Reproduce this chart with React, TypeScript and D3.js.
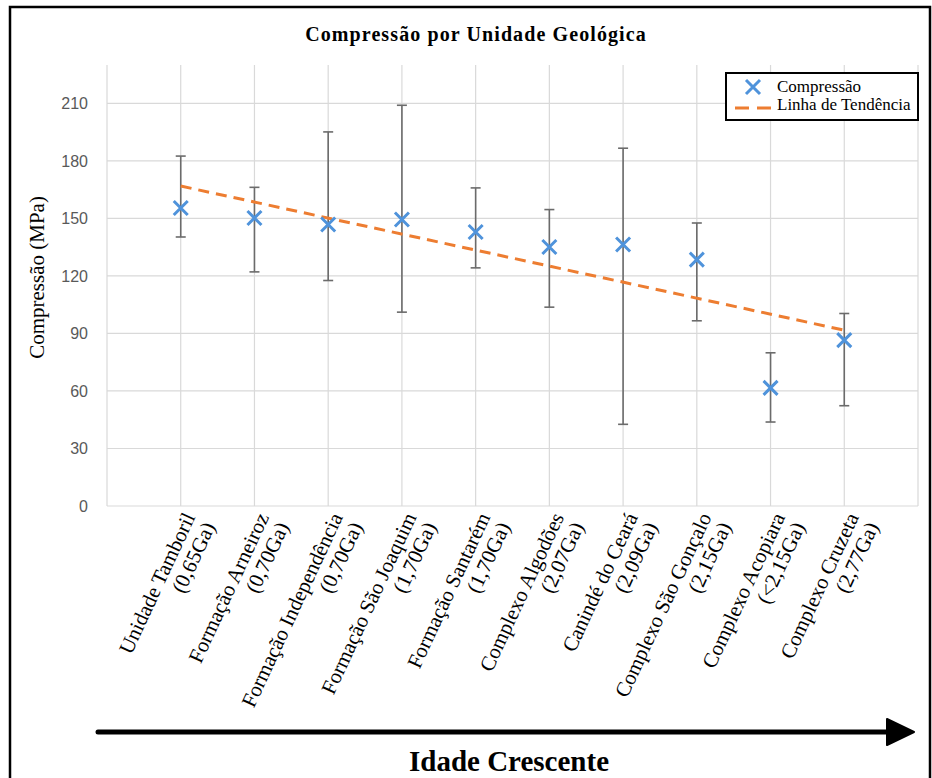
import React, { useRef, useEffect } from 'react';
import * as d3 from 'd3';

// category labels (two lines each)
const unitNames = [
  'Unidade Tamboril',
  'Formação Arneiroz',
  'Formação Independência',
  'Formação São Joaquim',
  'Formação Santarém',
  'Complexo Algodões',
  'Canindé do Ceará',
  'Complexo São Gonçalo',
  'Complexo Acopiara',
  'Complexo Cruzeta',
];
const unitAges = [
  '(0,65Ga)', '(0,70Ga)', '(0,70Ga)', '(1,70Ga)', '(1,70Ga)',
  '(2,07Ga)', '(2,09Ga)', '(2,15Ga)', '(<2,15Ga)', '(2,77Ga)',
];

// compressive strength (MPa)
const meanValues = [155.4, 150.2, 146.8, 149.4, 142.9, 135.1, 136.4, 128.5, 61.6, 86.5];
const upperValues = [182.5, 166.2, 195.1, 209.0, 165.9, 154.6, 186.6, 147.6, 79.9, 100.4];
const lowerValues = [140.3, 122.1, 117.6, 101.1, 124.2, 103.7, 42.6, 96.6, 43.8, 52.3];

const yTicks = [0, 30, 60, 90, 120, 150, 180, 210];

const W = 932;
const H = 778;

const Chart = () => {
  const ref = useRef(null);

  useEffect(() => {
    if (!ref.current) return;
    const svg = d3.select(ref.current);
    svg.selectAll('*').remove();

    const serif = '"Liberation Serif", "Times New Roman", serif';
    const sans = '"Liberation Sans", Arial, sans-serif';

    const x = d3.scaleLinear().domain([0, 11]).range([107, 918]);
    const y = d3.scaleLinear().domain([0, 230]).range([506, 65]);

    // outer frame
    svg.append('rect')
      .attr('x', 10).attr('y', 7)
      .attr('width', 920).attr('height', 800)
      .attr('fill', 'white')
      .attr('stroke', 'black')
      .attr('stroke-width', 2.5);

    // title
    svg.append('text')
      .attr('x', 476).attr('y', 41)
      .attr('text-anchor', 'middle')
      .style('font-family', serif)
      .style('font-weight', 'bold')
      .style('font-size', '20px')
      .style('letter-spacing', '1.1px')
      .text('Compressão por Unidade Geológica');

    const grid = svg.append('g');
    grid.selectAll('line.h')
      .data(yTicks)
      .enter().append('line')
      .attr('x1', x(0)).attr('x2', x(11))
      .attr('y1', d => y(d)).attr('y2', d => y(d))
      .attr('stroke', '#d9d9d9').attr('stroke-width', 1.2);
    grid.selectAll('line.v')
      .data(d3.range(0, 12))
      .enter().append('line')
      .attr('x1', d => x(d)).attr('x2', d => x(d))
      .attr('y1', y(230)).attr('y2', y(0))
      .attr('stroke', '#d9d9d9').attr('stroke-width', 1.2);

    // y tick labels
    svg.selectAll('text.ytick')
      .data(yTicks)
      .enter().append('text')
      .attr('x', 88)
      .attr('y', d => y(d))
      .attr('dy', '0.36em')
      .attr('text-anchor', 'end')
      .style('font-family', sans)
      .style('font-size', '16px')
      .style('fill', '#595959')
      .text(d => d);

    // y axis title
    svg.append('text')
      .attr('transform', `translate(44,${(y(0) + y(230)) / 2 - 8}) rotate(-90)`)
      .attr('text-anchor', 'middle')
      .style('font-family', serif)
      .style('font-size', '21px')
      .text('Compressão (MPa)');

    const idx = d3.range(meanValues.length);

    // error bars
    const eb = svg.append('g').attr('stroke', '#6b6b6b').attr('stroke-width', 1.6);
    idx.forEach(i => {
      const cx = x(i + 1);
      eb.append('line').attr('x1', cx).attr('x2', cx)
        .attr('y1', y(upperValues[i])).attr('y2', y(lowerValues[i]));
      eb.append('line').attr('x1', cx - 5).attr('x2', cx + 5)
        .attr('y1', y(upperValues[i])).attr('y2', y(upperValues[i]));
      eb.append('line').attr('x1', cx - 5).attr('x2', cx + 5)
        .attr('y1', y(lowerValues[i])).attr('y2', y(lowerValues[i]));
    });

    // linear trend (least squares over the points)
    const xs = idx.map(i => i + 1);
    const mx = d3.mean(xs);
    const my = d3.mean(meanValues);
    const slope = d3.sum(xs, (v, i) => (v - mx) * (meanValues[i] - my)) /
      d3.sum(xs, v => (v - mx) * (v - mx));
    const icpt = my - slope * mx;
    const trend = [1, xs.length].map(v => ({ x: v, y: icpt + slope * v }));
    svg.append('path')
      .datum(trend)
      .attr('d', d3.line().x(d => x(d.x)).y(d => y(d.y)))
      .attr('fill', 'none')
      .attr('stroke', '#ED7D31')
      .attr('stroke-width', 3)
      .attr('stroke-dasharray', '11 7');

    // markers
    const s = 7;
    const cross = `M${-s},${-s}L${s},${s}M${-s},${s}L${s},${-s}`;
    svg.selectAll('path.pt')
      .data(meanValues)
      .enter().append('path')
      .attr('transform', (d, i) => `translate(${x(i + 1)},${y(d)})`)
      .attr('d', cross)
      .attr('stroke', '#4F93DB')
      .attr('stroke-width', 3)
      .attr('fill', 'none');

    // category labels
    const labels = svg.selectAll('g.cat')
      .data(unitNames)
      .enter().append('g')
      .attr('transform', (d, i) => `translate(${x(i + 1) + 15},${517}) rotate(-65)`);
    const txt = labels.append('text')
      .attr('text-anchor', 'end')
      .style('font-family', serif)
      .style('font-size', '21px');
    txt.append('tspan').attr('x', 0).attr('dy', 0).text(d => d);
    txt.append('tspan').attr('x', 0).attr('dy', '1.05em').text((d, i) => unitAges[i]);

    // legend
    const lg = svg.append('g');
    lg.append('rect')
      .attr('x', 726).attr('y', 73).attr('width', 192).attr('height', 47)
      .attr('fill', 'white').attr('stroke', 'black').attr('stroke-width', 2);
    lg.append('path')
      .attr('transform', 'translate(753,87)')
      .attr('d', cross)
      .attr('stroke', '#4F93DB').attr('stroke-width', 3).attr('fill', 'none');
    lg.append('line')
      .attr('x1', 735).attr('x2', 772).attr('y1', 108).attr('y2', 108)
      .attr('stroke', '#ED7D31').attr('stroke-width', 3)
      .attr('stroke-dasharray', '14 8');
    lg.append('text').attr('x', 777).attr('y', 92)
      .style('font-family', serif).style('font-size', '17px').text('Compressão');
    lg.append('text').attr('x', 777).attr('y', 110)
      .style('font-family', serif).style('font-size', '17px').text('Linha de Tendência');

    // age arrow
    svg.append('line')
      .attr('x1', 98).attr('x2', 892).attr('y1', 732).attr('y2', 732)
      .attr('stroke', 'black').attr('stroke-width', 5).attr('stroke-linecap', 'round');
    svg.append('path')
      .attr('d', 'M887,719L914,732L887,745Z')
      .attr('fill', 'black').attr('stroke', 'black').attr('stroke-width', 2)
      .attr('stroke-linejoin', 'round');

    svg.append('text')
      .attr('x', 509).attr('y', 771)
      .attr('text-anchor', 'middle')
      .style('font-family', serif)
      .style('font-weight', 'bold')
      .style('font-size', '29px')
      .text('Idade Crescente');
  }, []);

  return (
    <svg
      ref={ref}
      width={W}
      height={H}
      style={{ position: 'absolute', left: 0, top: 0, background: 'white' }}
    />
  );
};

export default function App() {
  return <Chart />;
}
